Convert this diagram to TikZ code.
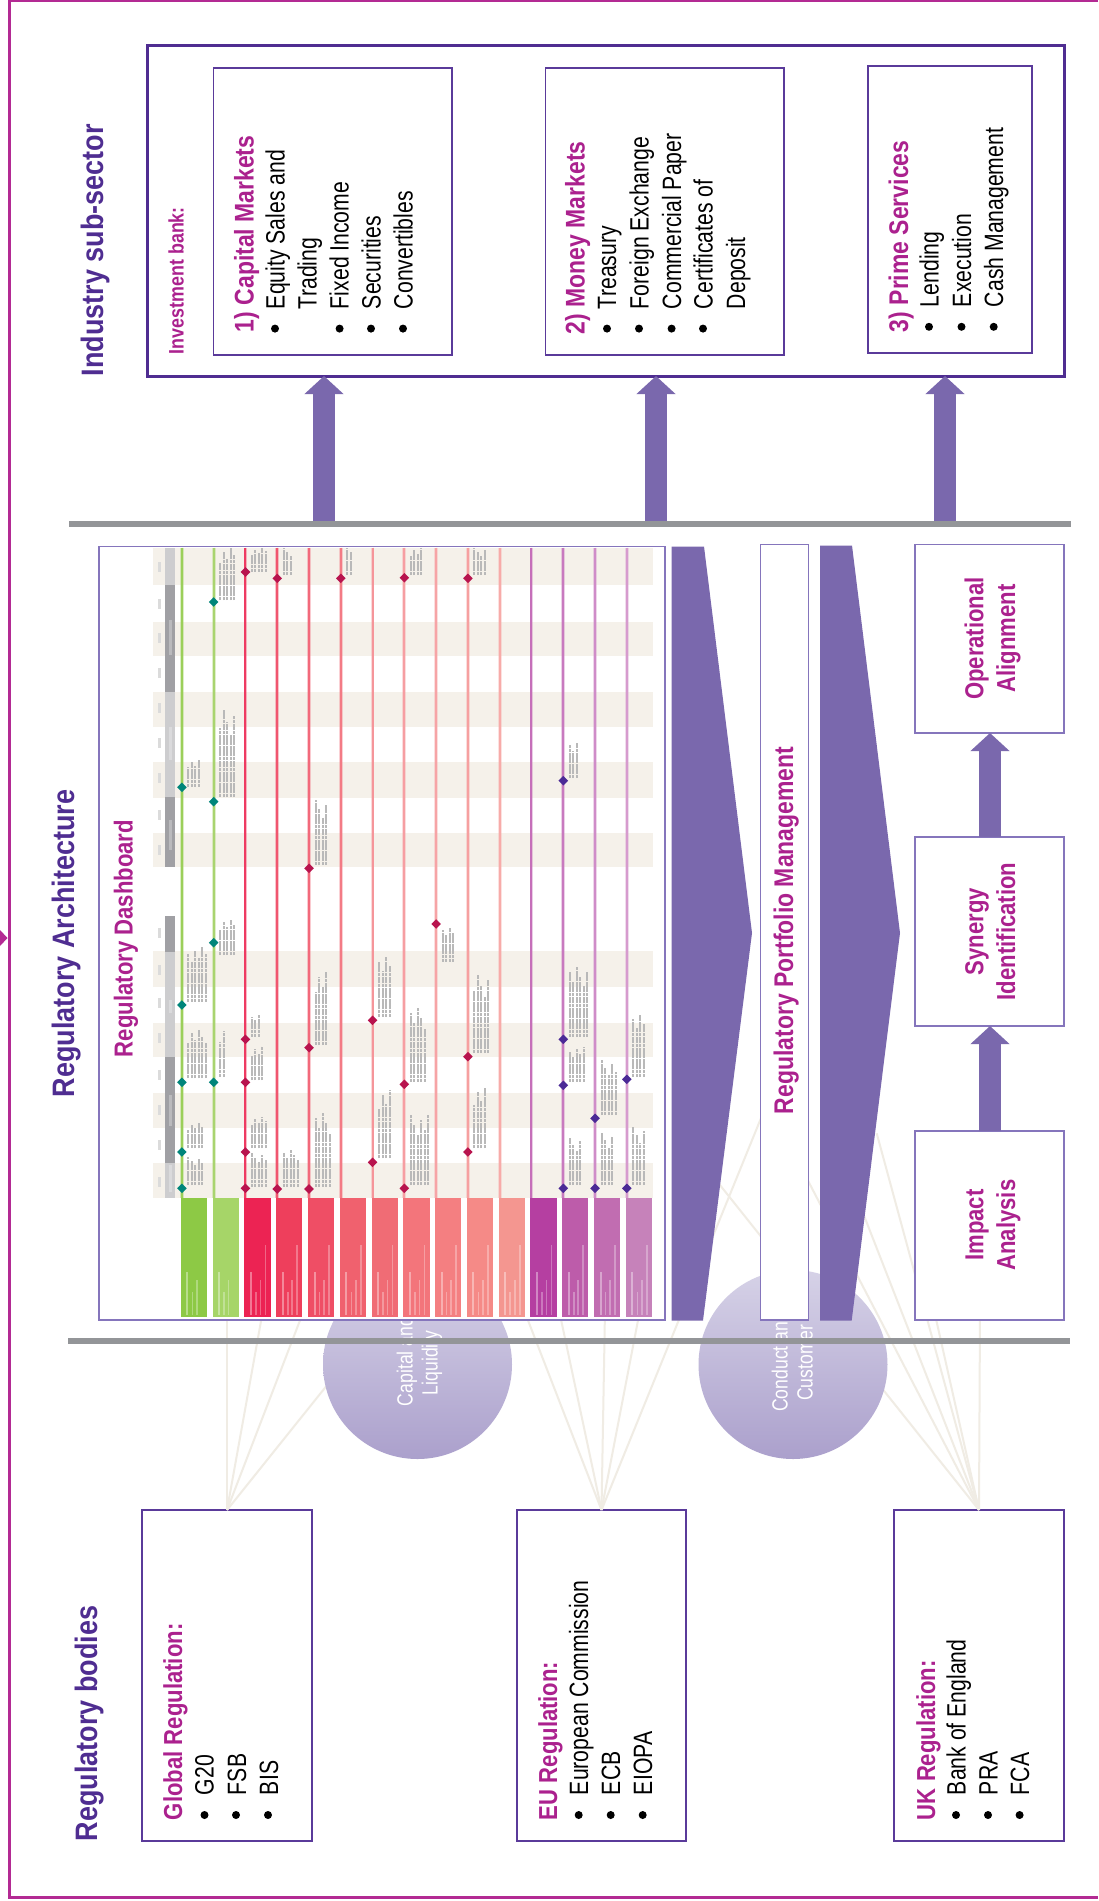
\documentclass[tikz,border=0pt]{standalone}
\usepackage{fontspec}
\usetikzlibrary{arrows.meta}
\newfontfamily\headfam{Liberation Sans}[FakeStretch=0.87]
\newfontfamily\boldfam{Liberation Sans}[FakeStretch=0.85]
\newfontfamily\bodyfam{Liberation Sans}[FakeStretch=0.80]
\definecolor{mag}{HTML}{AB218E}
\definecolor{frameM}{HTML}{B32A93}
\definecolor{dpur}{HTML}{4F2D91}
\definecolor{boxpur}{HTML}{5A3A9A}
\definecolor{thinpur}{HTML}{8575BC}
\definecolor{fatpur}{HTML}{7A68AD}
\definecolor{bargrey}{HTML}{939598}
\definecolor{fan}{HTML}{F0ECE4}
\definecolor{band}{HTML}{F5F1EA}
\definecolor{circT}{HTML}{D6D2E7}
\definecolor{circB}{HTML}{ABA0CC}
\definecolor{tealM}{HTML}{00857A}
\definecolor{crimM}{HTML}{B8144E}
\definecolor{purM}{HTML}{4B2A96}
\tikzset{
  tb/.style={inner sep=0pt,outer sep=0pt,rotate=90,anchor=base west},
  tc/.style={inner sep=0pt,outer sep=0pt,rotate=90,anchor=base},
  headT/.style={text=dpur,font=\fontsize{31}{36}\selectfont\headfam\bfseries},
  magT/.style={text=mag,font=\fontsize{26}{32}\selectfont\boldfam\bfseries},
  topT/.style={text=mag,font=\fontsize{27}{32}\selectfont\boldfam\bfseries},
  smallT/.style={text=mag,font=\fontsize{21}{25}\selectfont\boldfam\bfseries},
  bodyT/.style={text=black,font=\fontsize{26.5}{32}\selectfont\bodyfam},
  circT/.style={text=white,font=\fontsize{22}{26}\selectfont\bodyfam},
  regbox/.style={draw=boxpur,line width=2.6pt,fill=white},
  bigbox/.style={draw=dpur,line width=3pt,fill=white},
  inbox/.style={draw=boxpur,line width=1.6pt,fill=white},
  thinbox/.style={draw=thinpur,line width=1.5pt,fill=white},
  fanline/.style={draw=fan,line width=2pt},
  fatarrow/.style={draw=fatpur,line width=22pt,-{Triangle[length=18pt,width=38pt,sep=0pt]}},
  greybar/.style={draw=bargrey,line width=6pt}
}
\newcommand\bx[6]{\node[#1,inner sep=0pt,outer sep=0pt,minimum width={(#5-#3)*1pt},minimum height={(#6-#4)*1pt}] (#2) at ({(#3+#5)/2},{(#4+#6)/2}) {};}
\newcommand\tx[5]{\node[tb,#1] (#2) at (#3,#4) {#5};}
\newcommand\cx[5]{\node[tc,#1] (#2) at (#3,#4) {#5};}
\newcommand\bul[2]{\fill[black] (#1,#2) circle (4pt);}
\begin{document}
\begin{tikzpicture}[x=1pt,y=-1pt]
\useasboundingbox (0,0) rectangle (1098,1901);
\fill[white] (0,0) rectangle (1098,1901);
% frame
\draw[frameM,line width=2.6pt] (1098,1) -- (9.5,1) -- (9.5,1897.5) -- (1098,1897.5);
\fill[frameM] (0,930) -- (7.5,938) -- (0,946) -- cycle;

% regulatory boxes
\bx{regbox}{gl}{142}{1510}{312}{1841}
\bx{regbox}{eu}{517}{1510}{686}{1841}
\bx{regbox}{uk}{894}{1510}{1064}{1841}

% fan lines
\coordinate (ga) at (gl.north);
\coordinate (ea) at (eu.north);
\coordinate (ua) at (uk.north);
\foreach \p/\q in {227/1310,263/1310,304/1310,417/1273}{\coordinate (e) at (\p,\q); \draw[fanline] (ga) -- (e);}
\foreach \p/\q in {524/1310,559/1310,605/1310,640/1310,770/1096}{\coordinate (e) at (\p,\q); \draw[fanline] (ea) -- (e);}
\foreach \p/\q in {980/1310,934/1310,876.7/1133.3,863/1213,790/1146,700/1160}{\coordinate (e) at (\p,\q); \draw[fanline] (ua) -- (e);}

% circles
\node[circle,inner sep=0pt,minimum size=189pt,top color=circT,bottom color=circB,draw=none] (c1) at (417.5,1364.5) {};
\node[circle,inner sep=0pt,minimum size=189pt,top color=circT,bottom color=circB,draw=none] (c2) at (793,1364.5) {};
\tx{circT}{c1a}{412.7}{1406}{Capital and}
\tx{circT}{c1b}{437.7}{1395}{Liquidity}
\tx{circT}{c2a}{787.7}{1411.7}{Conduct and}
\tx{circT}{c2b}{812.7}{1400.7}{Customer}

% dashboard
\bx{thinbox}{dash}{99}{546.5}{665}{1320}
\foreach \a/\b in {548/585,622/656,692/727,762/798,833/867,951/987,1023/1057,1093/1128,1163/1198}
  {\fill[band] (153,\a) rectangle (653,\b);}
% header bar
\foreach \a/\b/\cl in {548/585/CDCDCF,585/692/A0A0A4,692/797/CDCDCF,797/867/A0A0A4,916/952/A0A0A4,952/1057/CDCDCF,1057/1163/A0A0A4,1163/1198/CDCDCF}
  {\definecolor{tmp}{HTML}{\cl}\fill[tmp] (165,\a) rectangle (175,\b);}
% month labels (illegible in the source) and quarter labels
\foreach \m in {566.7,604,638.3,673.3,708.3,743.3,778.3,815,850,933.3,970,1003.3,1038.3,1075,1110,1145,1181.7}
  {\fill[gray!28] (157.5,\m-5) rectangle (161,\m+5);}
\foreach \a/\b in {620/655,727/760,820/850,1000/1013,1095/1126,1165/1192}
  {\fill[white,opacity=.28] (168.5,\a) rectangle (172,\b);}

% row lines + blocks
\foreach \i/\lc/\bc in {1/9BCF5A/8DC945,2/A9D46F/A6D568,3/EE3B62/EC2353,4/F0566F/EE3F5C,5/F2697B/EF4E65,6/F37B85/F0616E,7/F5959A/F06C75,8/F69EA2/F3757B,9/F6A4A6/F47F81,10/F6A0A0/F58A87,11/F7ABA9/F49690,12/C56FB9/B53FA1,13/C87ABF/BD5CAA,14/CF8CC8/C16DB1,15/D69BCE/C682BA}{
  \pgfmathsetmacro\xx{181.9+(\i-1)*31.78}
  \definecolor{lc}{HTML}{\lc}\definecolor{bc}{HTML}{\bc}
  \draw[lc,opacity=.35,line width=3.8pt] (\xx,547.5) -- (\xx,1198);
  \draw[lc,line width=2pt] (\xx,547.5) -- (\xx,1198);
  \fill[bc] (\xx-1,1198) rectangle (\xx+25.2,1317);
  \draw[white,opacity=.38,line width=2pt] (\xx+5.5,1315) -- (\xx+5.5,1272);
  \draw[white,opacity=.3,line width=1.6pt] (\xx+10.5,1315) -- (\xx+10.5,1292);
  \draw[white,opacity=.3,line width=1.6pt] (\xx+15,1315) -- (\xx+15,1280);
  \ifnum\i>2
    \draw[white,opacity=.3,line width=1.6pt] (\xx+20,1315) -- (\xx+20,1245);
  \fi
}
% markers and their notes (illegible in the source: drawn as texture)
\foreach \cc/\my/\ta/\tb/\nn in {
 1/787.3/760/786.7/4, 2/602/548/600/5, 2/801.7/710/797/5, 3/572/548/571.7/5, 4/578.3/548/575/3,
 6/578.3/548/575/2, 8/577.7/548/575/4, 10/578.3/548/575/4, 5/868.3/800/865/4, 13/780.7/740/778/3,
 2/942.7/920/955/5, 1/1005/946.7/1001.7/6, 1/1082.3/1030/1078/6, 1/1152/1123/1148/5, 1/1188.3/1156.7/1185/5,
 2/1082.3/1028/1076.7/2, 3/1039.3/1015/1036.7/3, 3/1082.3/1046.7/1080/4, 3/1152/1116.7/1148/5, 3/1188.3/1153/1186.7/5,
 4/1189/1150/1186.7/5, 5/1047.7/971.7/1045/4, 5/1189/1113/1186.7/5, 7/1020.3/953/1016.7/4, 7/1162.3/1090/1158/4,
 8/1084.3/1008/1081.7/5, 8/1188.3/1115/1185/6, 9/924/928/961.7/4, 10/1056.7/975/1053/5, 10/1152/1088/1148/4,
 13/1039.3/966.7/1036.7/6, 13/1085.3/1046.7/1081.7/5, 13/1188.3/1138/1185/4, 14/1118.3/1060/1115/5, 14/1188.3/1133/1185/4,
 15/1079.3/1015/1076.7/4, 15/1188.3/1126.7/1185/4}{
  \pgfmathsetmacro\xx{181.9+(\cc-1)*31.78}
  \ifnum\cc<3 \colorlet{mk}{tealM}\else\ifnum\cc<12 \colorlet{mk}{crimM}\else\colorlet{mk}{purM}\fi\fi
  \foreach \k in {1,...,\nn}{
    \pgfmathsetmacro\lx{\xx+6.5+(\k-1)*3.5}
    \pgfmathsetmacro\yy{\ta+0.07*mod(\k*7+int(\my),5)*(\tb-\ta)}
    \draw[gray!55,line width=2pt,dash pattern=on 3.2pt off .5pt] (\lx,\tb) -- (\lx,\yy);
  }
  \fill[mk] (\xx-4.8,\my) -- (\xx,\my-4.8) -- (\xx+4.8,\my) -- (\xx,\my+4.8) -- cycle;
}
\tx{magT}{dashT}{132.6}{1057}{Regulatory Dashboard}

% chevrons
\fill[fatpur] (671.5,546.5) -- (704,546.5) -- (752,933) -- (703,1320.5) -- (671.5,1320.5) -- cycle;
\fill[fatpur] (820,545.5) -- (852,545.5) -- (900,933) -- (851.7,1320.5) -- (820,1320.5) -- cycle;

% portfolio and process boxes
\bx{thinbox}{port}{760.5}{544.5}{808.5}{1320}
\tx{topT}{portT}{793}{1114}{Regulatory Portfolio Management}
\bx{thinbox}{impact}{915}{1131}{1064}{1320}
\bx{thinbox}{syn}{915}{837}{1064}{1026}
\bx{thinbox}{oper}{915}{544.5}{1064}{733}
\cx{magT}{impA}{983.3}{1225}{Impact}
\cx{magT}{impB}{1015}{1225}{Analysis}
\cx{magT}{synA}{983.3}{931.5}{Synergy}
\cx{magT}{synB}{1015}{931.5}{Identification}
\cx{magT}{opA}{983.3}{638.5}{Operational}
\cx{magT}{opB}{1015}{638.5}{Alignment}
\draw[fatarrow] (impact.north -| 990,0) -- (syn.south -| 990,0);
\draw[fatarrow] (syn.north -| 990,0) -- (oper.south -| 990,0);

% grey bars
\coordinate (b1l) at (69,524); \coordinate (b1r) at (1071,524);
\coordinate (b2l) at (68,1340.7); \coordinate (b2r) at (1070,1340.7);
\draw[greybar] (b1l) -- (b1r);
\draw[greybar] (b2l) -- (b2r);

% industry box
\bx{bigbox}{bank}{147}{45}{1064}{376}
\bx{inbox}{cm}{213.6}{68}{452}{355}
\bx{inbox}{mm}{545.5}{68}{784}{355}
\bx{inbox}{ps}{868}{66}{1032}{353}
\coordinate (a1) at (324,521);
\coordinate (a2) at (656,521);
\coordinate (a3) at (945,521);
\draw[fatarrow] (a1) -- (a1 |- bank.south);
\draw[fatarrow] (a2) -- (a2 |- bank.south);
\draw[fatarrow] (a3) -- (a3 |- bank.south);

% headings
\tx{headT}{hReg}{97}{1841}{Regulatory bodies}
\tx{headT}{hArc}{74}{1097}{Regulatory Architecture}
\tx{headT}{hInd}{103}{376}{Industry sub-sector}
\tx{smallT}{inv}{183.5}{354}{Investment bank:}

% capital markets
\tx{topT}{t1}{253.5}{332}{1) Capital Markets}
\tx{bodyT}{t1a}{284.5}{309}{Equity Sales and}
\tx{bodyT}{t1b}{316.5}{309}{Trading}
\tx{bodyT}{t1c}{348.7}{309}{Fixed Income}
\tx{bodyT}{t1d}{380.5}{309}{Securities}
\tx{bodyT}{t1e}{412.5}{309}{Convertibles}
\bul{275}{328.6}\bul{339.6}{328.6}\bul{371}{328.6}\bul{403}{328.6}
% money markets
\tx{topT}{t2}{584.7}{334}{2) Money Markets}
\tx{bodyT}{t2a}{616}{309}{Treasury}
\tx{bodyT}{t2b}{648.5}{309}{Foreign Exchange}
\tx{bodyT}{t2c}{681}{309}{Commercial Paper}
\tx{bodyT}{t2d}{712.6}{309}{Certificates of}
\tx{bodyT}{t2e}{745}{309}{Deposit}
\bul{607}{328.6}\bul{639}{328.6}\bul{671.6}{328.6}\bul{703}{328.6}
% prime services
\tx{topT}{t3}{908}{332}{3) Prime Services}
\tx{bodyT}{t3a}{938.5}{307}{Lending}
\tx{bodyT}{t3b}{971}{307}{Execution}
\tx{bodyT}{t3c}{1003}{307}{Cash Management}
\bul{929}{326.8}\bul{961.5}{326.8}\bul{993.7}{326.8}

% regulation text
\tx{magT}{rg}{182}{1820}{Global Regulation:}
\tx{bodyT}{rga}{213.6}{1795}{G20}
\tx{bodyT}{rgb}{246}{1795}{FSB}
\tx{bodyT}{rgc}{278}{1795}{BIS}
\bul{204.5}{1815}\bul{236}{1815}\bul{268}{1815}
\tx{magT}{re}{557}{1820}{EU Regulation:}
\tx{bodyT}{rea}{588}{1795}{European Commission}
\tx{bodyT}{reb}{620}{1795}{ECB}
\tx{bodyT}{rec}{652}{1795}{EIOPA}
\bul{578.7}{1815}\bul{610.7}{1815}\bul{642.7}{1815}
\tx{magT}{ru}{935}{1820}{UK Regulation:}
\tx{bodyT}{rua}{965.5}{1795}{Bank of England}
\tx{bodyT}{rub}{997.5}{1795}{PRA}
\tx{bodyT}{ruc}{1029}{1795}{FCA}
\bul{956}{1815}\bul{988}{1815}\bul{1019.6}{1815}
\end{tikzpicture}
\end{document}
